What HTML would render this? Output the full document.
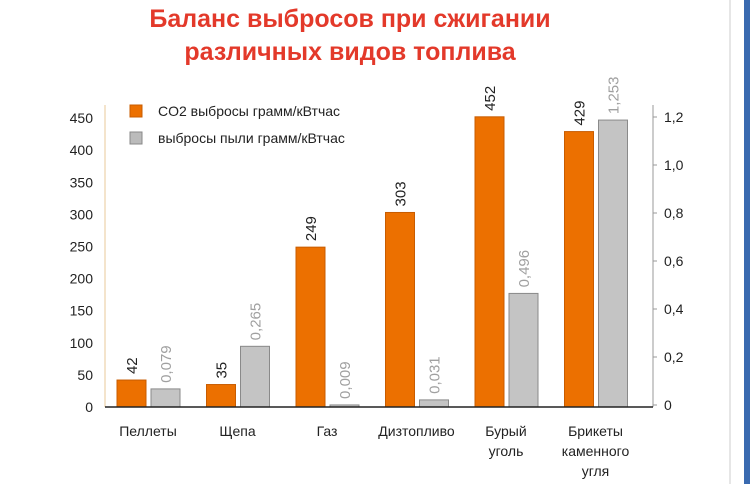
<!DOCTYPE html>
<html><head><meta charset="utf-8"><style>
body{margin:0;width:750px;height:484px;overflow:hidden;background:#fff;font-family:"Liberation Sans","DejaVu Sans",sans-serif}
</style></head><body>
<svg width="750" height="484" xmlns="http://www.w3.org/2000/svg" id="c">
<rect x="0" y="0" width="750" height="484" fill="#fff"/>
<line x1="730" y1="0" x2="730" y2="484" stroke="#ccc"/>
<rect x="744" y="0" width="6" height="484" fill="#3a6ab0"/>
<text x="350" y="27" text-anchor="middle" font-size="25" font-weight="bold" fill="#e3392a">Баланс выбросов при сжигании</text>
<text x="350" y="60" text-anchor="middle" font-size="25" font-weight="bold" fill="#e3392a">различных видов топлива</text>
<line x1="105" y1="105" x2="105" y2="407" stroke="#e8c89a"/>
<line x1="653" y1="105" x2="653" y2="407" stroke="#999"/>
<rect x="130" y="105" width="12" height="12" fill="#ec7000" stroke="#c85c00"/>
<text x="158" y="116" font-size="14" fill="#222">CO2 выбросы грамм/кВтчас</text>
<rect x="130" y="132" width="12" height="12" fill="#bbb" stroke="#888"/>
<text x="158" y="143" font-size="14" fill="#222">выбросы пыли грамм/кВтчас</text>
<g id="g"></g>
<line x1="105" y1="407" x2="653" y2="407" stroke="#222" stroke-width="1.5"/>
</svg>
<script>
const categories=[["Пеллеты"],["Щепа"],["Газ"],["Дизтопливо"],["Бурый","уголь"],["Брикеты","каменного","угля"]];
const co2=[42,35,249,303,452,429];
const dust=[0.079,0.265,0.009,0.031,0.496,1.253];
const co2Labels=["42","35","249","303","452","429"];
const dustLabels=["0,079","0,265","0,009","0,031","0,496","1,253"];
const leftTicks=[0,50,100,150,200,250,300,350,400,450];
const rightTicks=[0,0.2,0.4,0.6,0.8,1.0,1.2];
const rightTickLabels=["0","0,2","0,4","0,6","0,8","1,0","1,2"];
const NS="http://www.w3.org/2000/svg";
const g=document.getElementById('g');
const yL=v=>407-v*0.642;
const yR=v=>405-v*240;
const yDust=v=>407-v*229;
const xC=i=>148+i*89.5;
function mk(t,a){const e=document.createElementNS(NS,t);for(const k in a)e.setAttribute(k,a[k]);g.appendChild(e);return e;}
leftTicks.forEach(v=>{const t=mk('text',{x:93,y:yL(v)+5,'text-anchor':'end','font-size':14,fill:'#222'});t.textContent=v;

});
rightTicks.forEach((v,i)=>{const l=mk('line',{x1:653,x2:657,y1:yR(v),y2:yR(v),stroke:'#999'});


const t=mk('text',{x:664,y:yR(v)+5,'font-size':14,fill:'#222'});t.textContent=rightTickLabels[i];

});
categories.forEach((c,i)=>{const cx=xC(i);
const y1=yL(co2[i]);
const r=mk('rect',{x:cx-31,y:y1,width:29,height:407-y1,fill:'#ec7000',stroke:'#c85c00'});


const y2=yDust(dust[i]);
const r2=mk('rect',{x:cx+3,y:y2,width:29,height:407-y2,fill:'#c4c4c4',stroke:'#8a8a8a'});


const t1=mk('text',{transform:`translate(${cx-11},${y1-6}) rotate(-90)`,'font-size':15,fill:'#222'});t1.textContent=co2Labels[i];


const t2=mk('text',{transform:`translate(${cx+23},${y2-6}) rotate(-90)`,'font-size':15,fill:'#a0a0a0'});t2.textContent=dustLabels[i];


c.forEach((s,j)=>{const t=mk('text',{x:cx,y:436+j*20,'text-anchor':'middle','font-size':14,fill:'#222'});t.textContent=s;

});
});
</script>
</body></html>
